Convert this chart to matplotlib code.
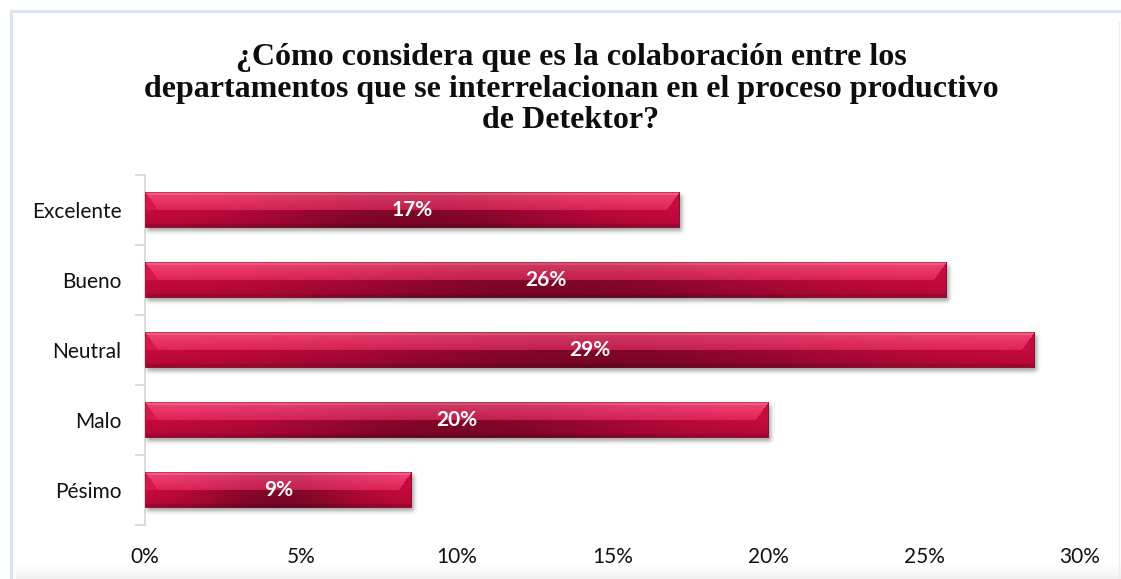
import numpy as np
import matplotlib
matplotlib.use("Agg")
import matplotlib.pyplot as plt
from matplotlib.colors import to_rgb

# Survey answers (share of respondents, %)
categories = ["Excelente", "Bueno", "Neutral", "Malo", "Pésimo"]
values = [17.14, 25.71, 28.57, 20.00, 8.57]
xticks = [0, 5, 10, 15, 20, 25, 30]
xtick_labels = ["0%", "5%", "10%", "15%", "20%", "25%", "30%"]
title = ("¿Cómo considera que es la colaboración entre los\n"
         "departamentos que se interrelacionan en el proceso productivo\n"
         "de Detektor?")

W_PX, H_PX, DPI = 1121, 579, 100
fig = plt.figure(figsize=(W_PX / DPI, H_PX / DPI), dpi=DPI)
fig.patch.set_facecolor("white")

# Background decorations: frame lines and soft bottom shade
bg = fig.add_axes([0, 0, 1, 1], zorder=-10)
bg.set_xlim(0, W_PX)
bg.set_ylim(H_PX, 0)
bg.axis("off")
bg.plot([10, W_PX], [10.5, 10.5], color="#dbe5f1", lw=2.2, solid_capstyle="butt")
bg.plot([10.5, 10.5], [10, H_PX], color="#dbe5f1", lw=2.2, solid_capstyle="butt")
bg.plot([1118.5, 1118.5], [22, H_PX], color="#ececec", lw=1.0)
shade = np.linspace(0, 1, 40)[:, None] ** 1.5
shade_rgba = np.zeros((40, 2, 4))
shade_rgba[..., :3] = 0.90
shade_rgba[..., 3] = shade * 0.7
bg.imshow(shade_rgba, extent=[16, W_PX, H_PX + 2, 562], aspect="auto",
          interpolation="bilinear", zorder=1)

# Plot area in pixels
ax_left, ax_right, ax_top, ax_bot = 145, 1080, 175, 525
ax = fig.add_axes([ax_left / W_PX, 1 - ax_bot / H_PX,
                   (ax_right - ax_left) / W_PX, (ax_bot - ax_top) / H_PX])
ax.set_facecolor("none")
n = len(categories)
ax.set_xlim(0, 30)
ax.set_ylim(n - 0.5, -0.5)

px_x = 30 / (ax_right - ax_left)      # data units per pixel (x)
px_y = n / (ax_bot - ax_top)          # data units per pixel (y)
bar_h = 0.52


def hexrgb(c):
    return np.array(to_rgb(c))


def bar_image(width_px, height_px):
    """RGBA image of a bevelled glossy bar plus its drop shadow."""
    pad_r, pad_b = 6, 7
    H = height_px + pad_b
    W = width_px + pad_r
    img = np.ones((H, W, 4))
    img[..., 3] = 0.0

    # drop shadow
    sh = np.zeros((H, W))
    sh[3:height_px + 3, 2:width_px + 2] = 1.0
    k = 5
    ker = np.ones(k) / k
    for _ in range(2):
        sh = np.apply_along_axis(lambda r: np.convolve(r, ker, mode="same"), 1, sh)
        sh = np.apply_along_axis(lambda c: np.convolve(c, ker, mode="same"), 0, sh)
    img[..., :3] = 0.35
    img[..., 3] = sh * 0.55

    # vertical colour profile
    mid = height_px // 2
    rows = np.zeros((height_px, 3))
    top_hi, top_lo = hexrgb("#f24674"), hexrgb("#e2245a")
    low_hi, low_lo = hexrgb("#c80a3f"), hexrgb("#b80738")
    for r in range(height_px):
        if r < mid:
            t = r / max(mid - 1, 1)
            rows[r] = top_hi * (1 - t) + top_lo * t
        else:
            t = (r - mid) / max(height_px - mid - 1, 1)
            rows[r] = low_hi * (1 - t) + low_lo * t
    rows[1:3] = hexrgb("#f85c84")
    rows[height_px - 4:height_px - 1] = hexrgb("#a1072f")
    rows[0] = hexrgb("#c43a5c")
    rows[-1] = hexrgb("#8e1a36")

    face = np.repeat(rows[:, None, :], width_px, axis=1)

    # darker centre band
    cols = np.arange(width_px)
    c = (width_px - 1) / 2
    s = 0.30 * width_px
    g = np.exp(-((cols - c) / s) ** 2)
    depth = np.where(np.arange(height_px) < mid, 0.14, 0.36)[:, None]
    face = face * (1 - depth * g[None, :])[:, :, None]

    # end bevels
    bx = 13
    rr, cc = np.mgrid[0:height_px, 0:width_px]
    upper = (rr < mid) & (rr > 0)
    left_tri = upper & (cc < bx * rr / mid)
    right_tri = upper & (cc > width_px - 1 - bx * rr / mid)
    face[left_tri] = hexrgb("#d9164a")
    face[right_tri] = hexrgb("#c20c3c")
    face[:, 0] = hexrgb("#b3163e")
    face[:, -1] = hexrgb("#8e0c2c")

    img[:height_px, :width_px, :3] = face
    img[:height_px, :width_px, 3] = 1.0
    return img, pad_r, pad_b


bar_h_px = int(round(bar_h / px_y))
for i, v in enumerate(values):
    w_px = int(round(v / px_x))
    img, pr, pb = bar_image(w_px, bar_h_px)
    y_top = i - bar_h / 2
    ax.imshow(img, extent=[0, (w_px + pr) * px_x,
                           y_top + (bar_h_px + pb) * px_y, y_top],
              aspect="auto", interpolation="bilinear", zorder=3)
    ax.text(v / 2, i, f"{v:.0f}%", ha="center", va="center", color="white",
            fontsize=15, fontweight="bold", family="Lato", zorder=5)

ax.set_xlim(0, 30)
ax.set_ylim(n - 0.5, -0.5)

# axes styling
for side in ["top", "right", "bottom"]:
    ax.spines[side].set_visible(False)
ax.spines["left"].set_color("#d9d9d9")
ax.spines["left"].set_linewidth(1.3)

ax.set_yticks(range(n))
ax.set_yticklabels(categories, family="Lato", fontsize=15, color="#111111")
ax.set_yticks(np.arange(-0.5, n, 1), minor=True)
ax.tick_params(axis="y", which="major", length=0, pad=17)
ax.tick_params(axis="y", which="minor", length=7, color="#d9d9d9", width=1.3)

ax.set_xticks(xticks)
ax.set_xticklabels(xtick_labels, family="Lato", fontsize=15, color="#111111")
ax.tick_params(axis="x", length=0, pad=16)

fig.text(571 / W_PX, 1 - 89 / H_PX, title, ha="center", va="center",
         family="Liberation Serif", fontweight="bold", fontsize=23,
         linespacing=1.12, color="#0d0d0d")

fig.savefig("out.png", dpi=DPI, facecolor="white")
